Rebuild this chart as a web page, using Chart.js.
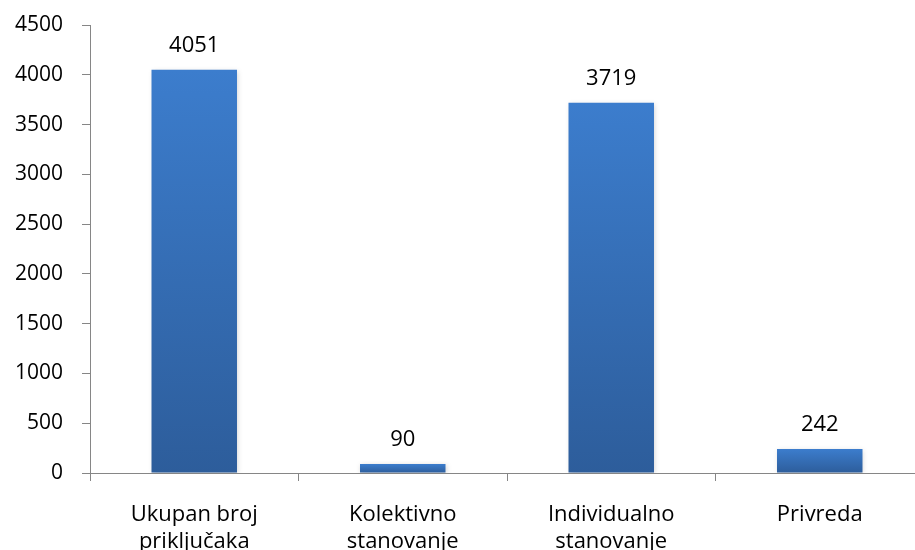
<!DOCTYPE html>
<html>
<head>
<meta charset="utf-8">
<script src="https://cdn.jsdelivr.net/npm/chart.js@4.4.0/dist/chart.umd.min.js"></script>
<style>
  html, body { margin: 0; padding: 0; background: #fff; overflow: hidden; }
  canvas { display: block; }
</style>
</head>
<body>
<canvas id="chart" width="915" height="550"></canvas>
<script>
const categories = [
  ["Ukupan broj", "priključaka"],
  ["Kolektivno", "stanovanje"],
  ["Individualno", "stanovanje"],
  ["Privreda"]
];
const values = [4051, 90, 3719, 242];
const yTicks = [0, 500, 1000, 1500, 2000, 2500, 3000, 3500, 4000, 4500];

const FONT = "'Open Sans', sans-serif";

// bar gradient, light at the top of each bar, darker at the base
function barFill(context) {
  const chart = context.chart;
  const y = chart.scales.y;
  if (!y || context.raw == null) return "#3a78c4";
  const top = y.getPixelForValue(context.raw);
  const base = y.getPixelForValue(0);
  if (!isFinite(top) || !isFinite(base) || top === base) return "#3a78c4";
  const g = chart.ctx.createLinearGradient(0, top, 0, base);
  g.addColorStop(0, "#3c7dcd");
  g.addColorStop(1, "#2d5d9b");
  return g;
}

// in the reference the plot area runs past the right edge of the picture,
// so the area is set by hand after Chart.js has done its layout
const plotBox = {
  id: "plotBox",
  afterLayout(chart) {
    const area = { left: 90, right: 924, top: 25, bottom: 473 };
    const x = chart.scales.x, y = chart.scales.y;
    Object.assign(chart.chartArea, area, {
      width: area.right - area.left,
      height: area.bottom - area.top
    });
    x.left = area.left; x.right = area.right; x.width = area.right - area.left;
    x.top = area.bottom; x.height = x.bottom - x.top;
    y.right = area.left; y.width = y.right - y.left;
    y.top = area.top; y.bottom = area.bottom; y.height = area.bottom - area.top;
    x.configure();
    y.configure();
  }
};

const shadowPlugin = {
  id: "barShadow",
  beforeDatasetsDraw(chart) {
    const c = chart.ctx;
    c.save();
    c.shadowColor = "rgba(0,0,0,0.18)";
    c.shadowBlur = 5;
    c.shadowOffsetX = 1;
    c.shadowOffsetY = 1;
  },
  afterDatasetsDraw(chart) {
    chart.ctx.restore();
  }
};

const valueLabels = {
  id: "valueLabels",
  afterDraw(chart) {
    const c = chart.ctx;
    const meta = chart.getDatasetMeta(0);
    c.save();
    c.font = "22px " + FONT;
    c.fillStyle = "#000";
    c.textAlign = "center";
    c.textBaseline = "alphabetic";
    meta.data.forEach((bar, i) => {
      c.fillText(String(values[i]), bar.x, bar.y - 18);
    });
    c.restore();
  }
};

new Chart(document.getElementById("chart"), {
  type: "bar",
  data: {
    labels: categories,
    datasets: [{
      data: values,
      backgroundColor: barFill,
      borderWidth: 0,
      barPercentage: 0.82,
      categoryPercentage: 0.5
    }]
  },
  options: {
    responsive: false,
    animation: false,
    plugins: {
      legend: { display: false },
      tooltip: { enabled: false }
    },
    scales: {
      x: {
        offset: true,
        border: { display: true, color: "#868686", width: 1 },
        grid: {
          offset: true,
          drawOnChartArea: false,
          drawTicks: true,
          tickLength: 8,
          color: "#868686"
        },
        ticks: {
          color: "#000",
          font: { family: FONT, size: 22, lineHeight: 1.2 },
          padding: 21,
          maxRotation: 0,
          autoSkip: false
        }
      },
      y: {
        min: 0,
        max: 4500,
        afterBuildTicks(axis) {
          axis.ticks = yTicks.map(v => ({ value: v }));
        },
        border: { display: true, color: "#868686", width: 1 },
        grid: {
          drawOnChartArea: false,
          drawTicks: true,
          tickLength: 8,
          color: "#868686"
        },
        ticks: {
          color: "#000",
          font: { family: FONT, size: 21 },
          padding: 19,
          callback: v => String(v)
        }
      }
    }
  },
  plugins: [plotBox, shadowPlugin, valueLabels]
});
</script>
</body>
</html>
